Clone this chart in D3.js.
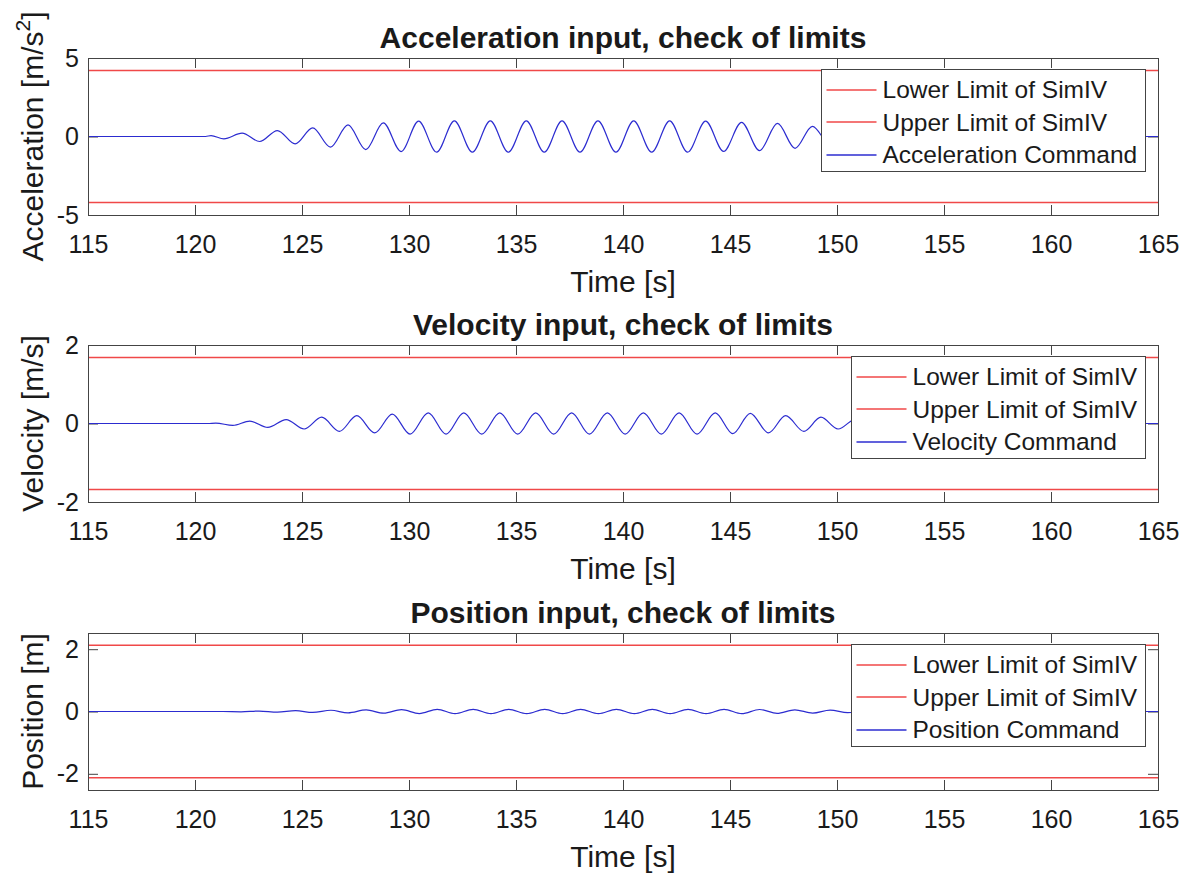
<!DOCTYPE html>
<html>
<head>
<meta charset="utf-8">
<script src="https://cdn.jsdelivr.net/npm/d3@7"></script>
<style>
body{margin:0;background:#fff;}
text{font-family:"Liberation Sans",Arial,Helvetica,sans-serif;fill:#1a1a1a;}
</style>
</head>
<body>
<svg id="chart" width="1196" height="874"></svg>
<script>
const timeDomain=[115,165];
const timeTicks=[115,120,125,130,135,140,145,150,155,160,165];

// SimIV limits [lower, upper]
const accLimits=[-4.2,4.2];
const velLimits=[-1.68,1.68];
const posLimits=[-2.13,2.13];

// acceleration command, read at the turning points of the wave
const accTime=[115,120.5,120.75,121.35,122.2,123.02,123.85,124.68,125.5,126.33,127.15,127.98,128.8,129.63,130.45,131.29,132.12,132.96,133.8,134.64,135.48,136.32,137.15,137.99,138.83,139.67,140.5,141.34,142.18,143.02,143.86,144.7,145.54,146.38,147.22,148.04,148.85,149.7,150.5,151.35,152.1,152.6,165];
const accValue=[0,0,0.06,-0.15,0.21,-0.32,0.38,-0.47,0.55,-0.68,0.74,-0.83,0.87,-0.96,0.98,-1.0,1.0,-1.0,1.0,-1.0,1.0,-1.0,1.0,-1.0,1.0,-1.0,1.0,-1.0,1.0,-1.0,0.98,-0.95,0.9,-0.9,0.83,-0.75,0.65,-0.55,0.4,-0.25,0.1,0,0];

// velocity command
const velTime=[115,120.6,120.97,121.77,122.56,123.4,124.26,125.1,125.92,126.75,127.56,128.4,129.22,130.05,130.9,131.73,132.56,133.4,134.24,135.08,135.92,136.76,137.6,138.43,139.27,140.1,140.95,141.79,142.62,143.46,144.31,145.13,145.95,146.8,147.6,148.45,149.25,150.05,150.9,151.7,152.5,165];
const velValue=[0,0,0.01,-0.05,0.06,-0.1,0.1,-0.14,0.16,-0.2,0.2,-0.24,0.24,-0.27,0.27,-0.27,0.27,-0.27,0.27,-0.27,0.27,-0.27,0.27,-0.27,0.27,-0.27,0.27,-0.27,0.27,-0.27,0.27,-0.26,0.26,-0.24,0.2,-0.2,0.16,-0.14,0.12,-0.08,0,0];

// position command
const posTime=[115,121.3,122.15,123.0,123.85,124.7,125.5,126.35,127.15,128.0,128.82,129.65,130.48,131.32,132.15,133.0,133.83,134.66,135.5,136.34,137.18,138.02,138.85,139.69,140.53,141.37,142.2,143.04,143.88,144.72,145.55,146.38,147.2,148.03,148.86,149.68,150.5,151.3,152.0,165];
const posValue=[0,0,-0.01,0.015,-0.02,0.025,-0.03,0.04,-0.045,0.05,-0.055,0.06,-0.065,0.07,-0.07,0.07,-0.07,0.07,-0.07,0.07,-0.07,0.07,-0.07,0.07,-0.07,0.07,-0.07,0.07,-0.07,0.07,-0.07,0.065,-0.06,0.055,-0.05,0.045,-0.035,0.02,0,0];

const limitLabels=['Lower Limit of SimIV','Upper Limit of SimIV'];

const LEFT=88, RIGHT=1158, PANEL_H=157;
const RED='#f04848', BLUE='#2c2cd0', AXIS='#444';

const panels=[
    {top:58, title:'Acceleration input, check of limits', yLabel:'Acceleration [m/s', ySup:'2',
     yDomain:[-5,5], yTicks:[-5,0,5], limits:accLimits, time:accTime, value:accValue, cmd:'Acceleration Command'},
    {top:345, title:'Velocity input, check of limits', yLabel:'Velocity [m/s]', ySup:null,
     yDomain:[-2,2], yTicks:[-2,0,2], limits:velLimits, time:velTime, value:velValue, cmd:'Velocity Command'},
    {top:633, title:'Position input, check of limits', yLabel:'Position [m]', ySup:null,
     yDomain:[-2.52,2.52], yTicks:[-2,0,2], limits:posLimits, time:posTime, value:posValue, cmd:'Position Command'}
];

const svg=d3.select('#chart');
svg.append('rect').attr('width',1196).attr('height',874).attr('fill','#fff');

let x=d3.scaleLinear().domain(timeDomain).range([LEFT,RIGHT]);
let plain=d=>String(d);   // hyphen minus like the original, no decimals

panels.forEach((p,i)=>{
    let y=d3.scaleLinear().domain(p.yDomain).range([p.top+PANEL_H,p.top]);
    let g=svg.append('g');

    g.append('clipPath').attr('id','clip'+i)
        .append('rect').attr('x',LEFT).attr('y',p.top).attr('width',RIGHT-LEFT).attr('height',PANEL_H);

    // axes with inward ticks on all four sides
    let bottom=g.append('g').attr('transform','translate(0,'+(p.top+PANEL_H)+')')
        .call(d3.axisBottom(x).tickValues(timeTicks).tickSizeInner(-10).tickSizeOuter(0).tickPadding(20).tickFormat(plain));
    let top=g.append('g').attr('transform','translate(0,'+p.top+')')
        .call(d3.axisTop(x).tickValues(timeTicks).tickSizeInner(-10).tickSizeOuter(0).tickFormat(''));
    let left=g.append('g').attr('transform','translate('+LEFT+',0)')
        .call(d3.axisLeft(y).tickValues(p.yTicks).tickSizeInner(-10).tickSizeOuter(0).tickPadding(9).tickFormat(plain));
    let right=g.append('g').attr('transform','translate('+RIGHT+',0)')
        .call(d3.axisRight(y).tickValues(p.yTicks).tickSizeInner(-10).tickSizeOuter(0).tickFormat(''));
    [bottom,top,left,right].forEach(a=>{
        a.select('.domain').remove();
        a.selectAll('line').attr('stroke',AXIS);
        a.selectAll('text').style('font-size','25px').attr('fill','#1a1a1a');
    });

    // limit lines
    let plot=g.append('g').attr('clip-path','url(#clip'+i+')');
    plot.selectAll('.limit').data(p.limits).enter()
        .append('line')
        .attr('class','limit')
        .attr('x1',x(timeDomain[0])).attr('x2',x(timeDomain[1]))
        .attr('y1',d=>y(d)).attr('y2',d=>y(d))
        .attr('stroke',RED).attr('stroke-width',1.5);

    let pts=p.time.map((t,k)=>[t,p.value[k]]);
    let line=d3.line()
        .x(d=>x(d[0]))
        .y(d=>y(d[1]))
        .curve(d3.curveMonotoneX);
    plot.append('path')
        .attr('d',line(pts))
        .attr('fill','none')
        .attr('stroke',BLUE)
        .attr('stroke-width',1.2);

    g.append('rect')
        .attr('x',LEFT+0.5).attr('y',p.top+0.5)
        .attr('width',RIGHT-LEFT).attr('height',PANEL_H)
        .attr('fill','none').attr('stroke',AXIS).attr('stroke-width',1);

    // titles and labels
    g.append('text')
        .attr('x',(LEFT+RIGHT)/2).attr('y',p.top-10)
        .attr('text-anchor','middle')
        .style('font-size','30px').style('font-weight','bold').attr('fill','#000')
        .text(p.title);

    g.append('text')
        .attr('x',(LEFT+RIGHT)/2).attr('y',p.top+PANEL_H+77)
        .attr('text-anchor','middle')
        .style('font-size','30px')
        .text('Time [s]');

    let yl=g.append('text')
        .attr('transform','translate(43,'+(p.top+PANEL_H/2)+') rotate(-90)')
        .attr('text-anchor','middle')
        .style('font-size','30px');
    yl.append('tspan').text(p.yLabel);
    if(p.ySup){
        yl.append('tspan').attr('dy',-13).style('font-size','21px').text(p.ySup);
        yl.append('tspan').attr('dy',13).text(']');
    }

    // legend
    let entries=[{label:limitLabels[0],color:RED},{label:limitLabels[1],color:RED},{label:p.cmd,color:BLUE}];
    let leg=g.append('g');
    let box=leg.append('rect');
    let texts=leg.selectAll('text').data(entries).enter()
        .append('text')
        .style('font-size','24.5px')
        .attr('dominant-baseline','central')
        .text(d=>d.label);
    let maxW=d3.max(texts.nodes(),n=>n.getComputedTextLength());
    let w=Math.round(5+50+6+maxW+8), h=102;
    let bx=RIGHT-13-w+0.5, by=p.top+11.5;
    box.attr('x',bx).attr('y',by).attr('width',w).attr('height',h)
        .attr('fill','#fff').attr('stroke',AXIS).attr('stroke-width',1);
    texts.attr('x',bx+61).attr('y',(d,k)=>by+20+k*32.5);
    leg.selectAll('.sample').data(entries).enter()
        .append('line')
        .attr('class','sample')
        .attr('x1',bx+5).attr('x2',bx+55)
        .attr('y1',(d,k)=>Math.round(by+20+k*32.5)).attr('y2',(d,k)=>Math.round(by+20+k*32.5))
        .attr('stroke',d=>d.color).attr('stroke-width',1.6);
});
</script>
</body>
</html>
